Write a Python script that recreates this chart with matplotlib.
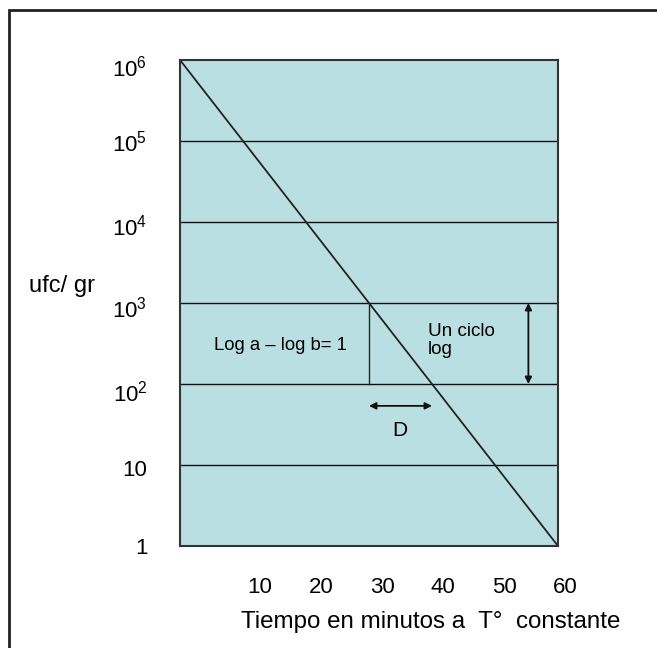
import matplotlib
matplotlib.use("Agg")
import matplotlib.pyplot as plt
import matplotlib.transforms as mtransforms
from matplotlib.patches import Rectangle

plt.rcParams['font.family'] = ['Liberation Sans', 'DejaVu Sans']
plt.rcParams['mathtext.fontset'] = 'custom'
plt.rcParams['mathtext.rm'] = 'Liberation Sans'

# Data
line_t = [0, 60]
line_ufc = [1e6, 1]
decades = [1, 10, 1e2, 1e3, 1e4, 1e5, 1e6]
ytick_labels = ['1', '10', r'$\mathregular{10^2}$', r'$\mathregular{10^3}$',
                r'$\mathregular{10^4}$', r'$\mathregular{10^5}$', r'$\mathregular{10^6}$']
xticks = [10, 20, 30, 40, 50, 60]
xtick_labels = ['10', '20', '30', '40', '50', '60']
d_start, d_end = 30, 40
a_val, b_val = 1e3, 1e2
cycle_t = 55.3

bg = '#badfe2'

fig = plt.figure(figsize=(6.57, 6.48), dpi=100)
# outer frame (runs off right/bottom)
fig.patches.append(Rectangle((9/657, -0.05), 1.2, 1 - 10/648 + 0.05, transform=fig.transFigure,
                             fill=False, edgecolor='#222222', linewidth=2.0))

ax = fig.add_axes([180/657, 1 - 546/648, 378/657, 486/648])
ax.set_facecolor(bg)
ax.set_yscale('log')
ax.set_xlim(0, 60)
ax.set_ylim(1, 1e6)
for s in ax.spines.values():
    s.set_color('#333333')
    s.set_linewidth(1.5)

for d in decades[1:-1]:
    ax.axhline(d, color='#111111', linewidth=1.0)

ax.plot(line_t, line_ufc, color='#222222', linewidth=1.3)
ax.plot([d_start, d_start], [b_val, a_val], color='#222222', linewidth=1.0)

ax.set_yticks(decades)
ax.set_yticklabels(ytick_labels, fontsize=16)
ax.yaxis.set_minor_locator(matplotlib.ticker.NullLocator())
ax.tick_params(axis='y', length=0, pad=23.5)
y_offsets = [0, -3, -7, -4, -3, 0, -6]
for lab, dy in zip(ax.get_yticklabels(), y_offsets):
    off = mtransforms.ScaledTranslation(0, dy / 100, fig.dpi_scale_trans)
    lab.set_transform(lab.get_transform() + off)
ax.set_xticks(xticks)
ax.set_xticklabels(xtick_labels, fontsize=16)
ax.tick_params(axis='x', length=0, pad=22)
for i, lab in enumerate(ax.get_xticklabels()):
    off = mtransforms.ScaledTranslation((17 - 2 * i) / 100, 0, fig.dpi_scale_trans)
    lab.set_transform(lab.get_transform() + off)

ax.text(15.9, 10**2.48, 'Log a – log b= 1', ha='center', va='center', fontsize=13.3)
ax.text(39.4, 10**2.54, 'Un ciclo\nlog', ha='left', va='center', fontsize=13.6, linespacing=1.1)
ax.annotate('', xy=(cycle_t, a_val), xytext=(cycle_t, b_val),
            arrowprops=dict(arrowstyle='<|-|>', color='#111111', lw=1.3, mutation_scale=10,
                            shrinkA=0, shrinkB=0))
ax.annotate('', xy=(d_end, 10**1.73), xytext=(d_start, 10**1.73),
            arrowprops=dict(arrowstyle='<|-|>', color='#111111', lw=1.3, mutation_scale=10,
                            shrinkA=0, shrinkB=0))
ax.text(34.9, 10**1.43, 'D', ha='center', va='center', fontsize=15)

fig.text(62/657, 1 - 286/648, 'ufc/ gr', ha='center', va='center', fontsize=17)
fig.text(431/657, 1 - 622/648, 'Tiempo en minutos a  T°  constante', ha='center', va='center', fontsize=17.4)

fig.savefig('out.png', dpi=100, facecolor='white')
